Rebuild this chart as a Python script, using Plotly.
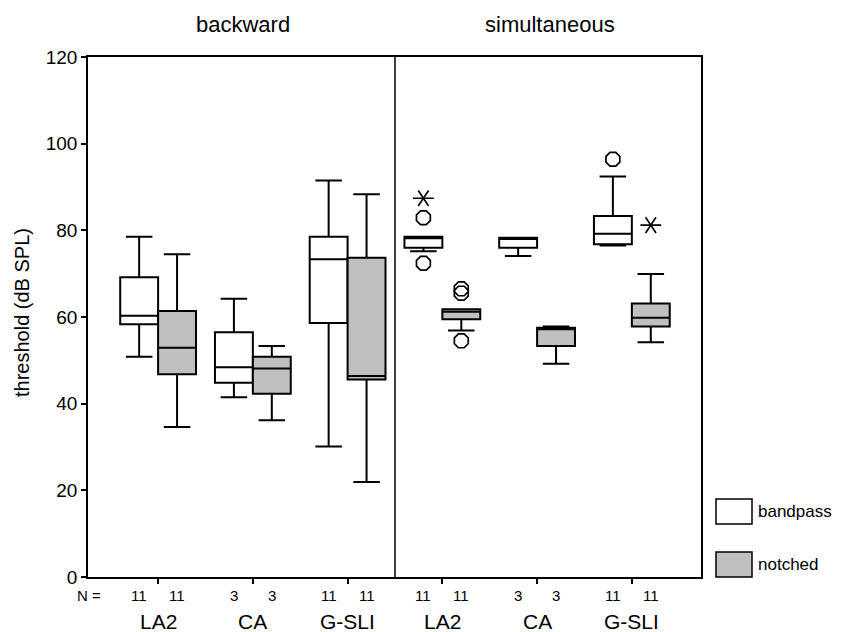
import plotly.graph_objects as go

# ---------------- data ----------------
conditions = ["backward", "simultaneous"]
groups = ["LA2", "CA", "G-SLI"]
n_counts = [11, 3, 11]

# order: backward LA2, CA, G-SLI, simultaneous LA2, CA, G-SLI
bandpass_low = [50.8, 41.5, 30.1, 75.2, 74.1, 76.5]
bandpass_q1 = [58.3, 44.8, 58.6, 76.0, 76.0, 76.8]
bandpass_med = [60.3, 48.4, 73.3, 78.2, 78.0, 79.2]
bandpass_q3 = [69.2, 56.5, 78.5, 78.5, 78.3, 83.3]
bandpass_high = [78.5, 64.2, 91.5, 78.5, 78.3, 92.4]

notched_low = [34.6, 36.2, 21.9, 56.9, 49.2, 54.2]
notched_q1 = [46.8, 42.3, 45.6, 59.5, 53.3, 57.8]
notched_med = [52.9, 48.1, 46.4, 61.2, 57.2, 59.8]
notched_q3 = [61.4, 50.8, 73.7, 61.8, 57.5, 63.1]
notched_high = [74.5, 53.3, 88.3, 61.8, 57.8, 69.9]

# outliers: (group index, series, value)
circle_group = [3, 3, 3, 3, 3, 5]
circle_series = ["bandpass", "bandpass", "notched", "notched", "notched", "bandpass"]
circle_values = [82.9, 72.4, 66.5, 65.5, 54.5, 96.4]
star_group = [3, 5]
star_series = ["bandpass", "notched"]
star_values = [87.4, 81.2]

# ---------------- layout constants ----------------
FONT = "Arial, Liberation Sans, sans-serif"
OFF = 0.2
BW = 0.4
PAGE = 8  # default body margin of the html page
L, T, PW, PH = 88, 57, 613, 520  # plot area in screenshot pixels
W, H = 841 - PAGE, 632 - PAGE
XMIN, XMAX = -0.74, 5.73
positions = list(range(len(bandpass_q1)))


def px_x(px):
    return (px - L) / PW


def px_y(py):
    return (T + PH - py) / PH


def off(series):
    return -OFF if series == "bandpass" else OFF


fig = go.Figure()
fig.add_trace(go.Box(
    x=[p - OFF for p in positions], q1=bandpass_q1, median=bandpass_med, q3=bandpass_q3,
    lowerfence=bandpass_low, upperfence=bandpass_high, width=BW, whiskerwidth=0.7,
    fillcolor="white", line=dict(color="black", width=2), name="bandpass",
    showlegend=False, hoverinfo="skip"))
fig.add_trace(go.Box(
    x=[p + OFF for p in positions], q1=notched_q1, median=notched_med, q3=notched_q3,
    lowerfence=notched_low, upperfence=notched_high, width=BW, whiskerwidth=0.7,
    fillcolor="#c0c0c0", line=dict(color="black", width=2), name="notched",
    showlegend=False, hoverinfo="skip"))

fig.add_trace(go.Scatter(
    x=[g + off(s) for g, s in zip(circle_group, circle_series)], y=circle_values,
    mode="markers", showlegend=False, hoverinfo="skip",
    marker=dict(symbol="octagon-open", size=15, color="black", line=dict(width=1.7))))
for sym in ["y-left-open", "y-right-open"]:
    fig.add_trace(go.Scatter(
        x=[g + off(s) for g, s in zip(star_group, star_series)], y=star_values,
        mode="markers", showlegend=False, hoverinfo="skip",
        marker=dict(symbol=sym, size=13, color="black", line=dict(width=1.7, color="black"))))

# divider between panels
fig.add_shape(type="line", xref="x", yref="paper", x0=2.5, x1=2.5, y0=0, y1=1,
              line=dict(color="black", width=1.5))

annotations = []
# panel titles
annotations.append(dict(x=px_x(243), y=px_y(24), xref="paper", yref="paper", text=conditions[0],
                         xanchor="center", yanchor="middle", showarrow=False,
                         font=dict(size=22, color="black", family=FONT)))
annotations.append(dict(x=px_x(550), y=px_y(24), xref="paper", yref="paper", text=conditions[1],
                         xanchor="center", yanchor="middle", showarrow=False,
                         font=dict(size=22, color="black", family=FONT)))
# N row
annotations.append(dict(x=px_x(89), y=px_y(595), xref="paper", yref="paper", text="N =",
                         xanchor="center", yanchor="middle", showarrow=False,
                         font=dict(size=15, color="black", family=FONT)))
for i in positions:
    n = n_counts[i % 3]
    for s in ["bandpass", "notched"]:
        annotations.append(dict(x=i + off(s), y=px_y(595), xref="x", yref="paper", text=str(n),
                                xanchor="center", yanchor="middle", showarrow=False,
                                font=dict(size=15, color="black", family=FONT)))
    annotations.append(dict(x=i, y=px_y(621), xref="x", yref="paper", text=groups[i % 3],
                            xanchor="center", yanchor="middle", showarrow=False,
                            font=dict(size=21, color="black", family=FONT)))
# y title
annotations.append(dict(x=px_x(22), y=px_y(313), xref="paper", yref="paper",
                         text="threshold (dB SPL)", textangle=-90, showarrow=False,
                         xanchor="center", yanchor="middle",
                         font=dict(size=20, color="black", family=FONT)))
# legend
legend_items = [("bandpass", "white", 499, 524), ("notched", "#c0c0c0", 552, 577)]
for label, col, y0, y1 in legend_items:
    fig.add_shape(type="rect", xref="paper", yref="paper", x0=px_x(716), x1=px_x(752),
                  y0=px_y(y1), y1=px_y(y0), fillcolor=col, line=dict(color="black", width=1.5))
    annotations.append(dict(x=px_x(756), y=px_y((y0 + y1) / 2), xref="paper", yref="paper",
                            text=label, xanchor="left", yanchor="middle", showarrow=False,
                            font=dict(size=17, color="black", family=FONT)))

fig.update_layout(
    width=W, height=H,
    margin=dict(l=L - PAGE, r=W - (L - PAGE) - PW, t=T - PAGE, b=H - (T - PAGE) - PH, pad=0),
    paper_bgcolor="white", plot_bgcolor="white",
    boxmode="overlay",
    font=dict(family=FONT, color="black"),
    annotations=annotations,
    xaxis=dict(range=[XMIN, XMAX], tickvals=positions, ticktext=["" for _ in positions],
               ticks="outside", ticklen=5, tickwidth=1.5, tickcolor="black",
               showline=True, linecolor="black", linewidth=1.5, mirror=True,
               showgrid=False, zeroline=False, fixedrange=True),
    yaxis=dict(range=[0, 120], tickvals=[0, 20, 40, 60, 80, 100, 120],
               ticks="outside", ticklen=5, tickwidth=1.5, tickcolor="black",
               tickfont=dict(size=19, color="black", family=FONT),
               showline=True, linecolor="black", linewidth=1.5, mirror=True,
               showgrid=False, zeroline=False, fixedrange=True),
)

fig.write_html("out.html")
